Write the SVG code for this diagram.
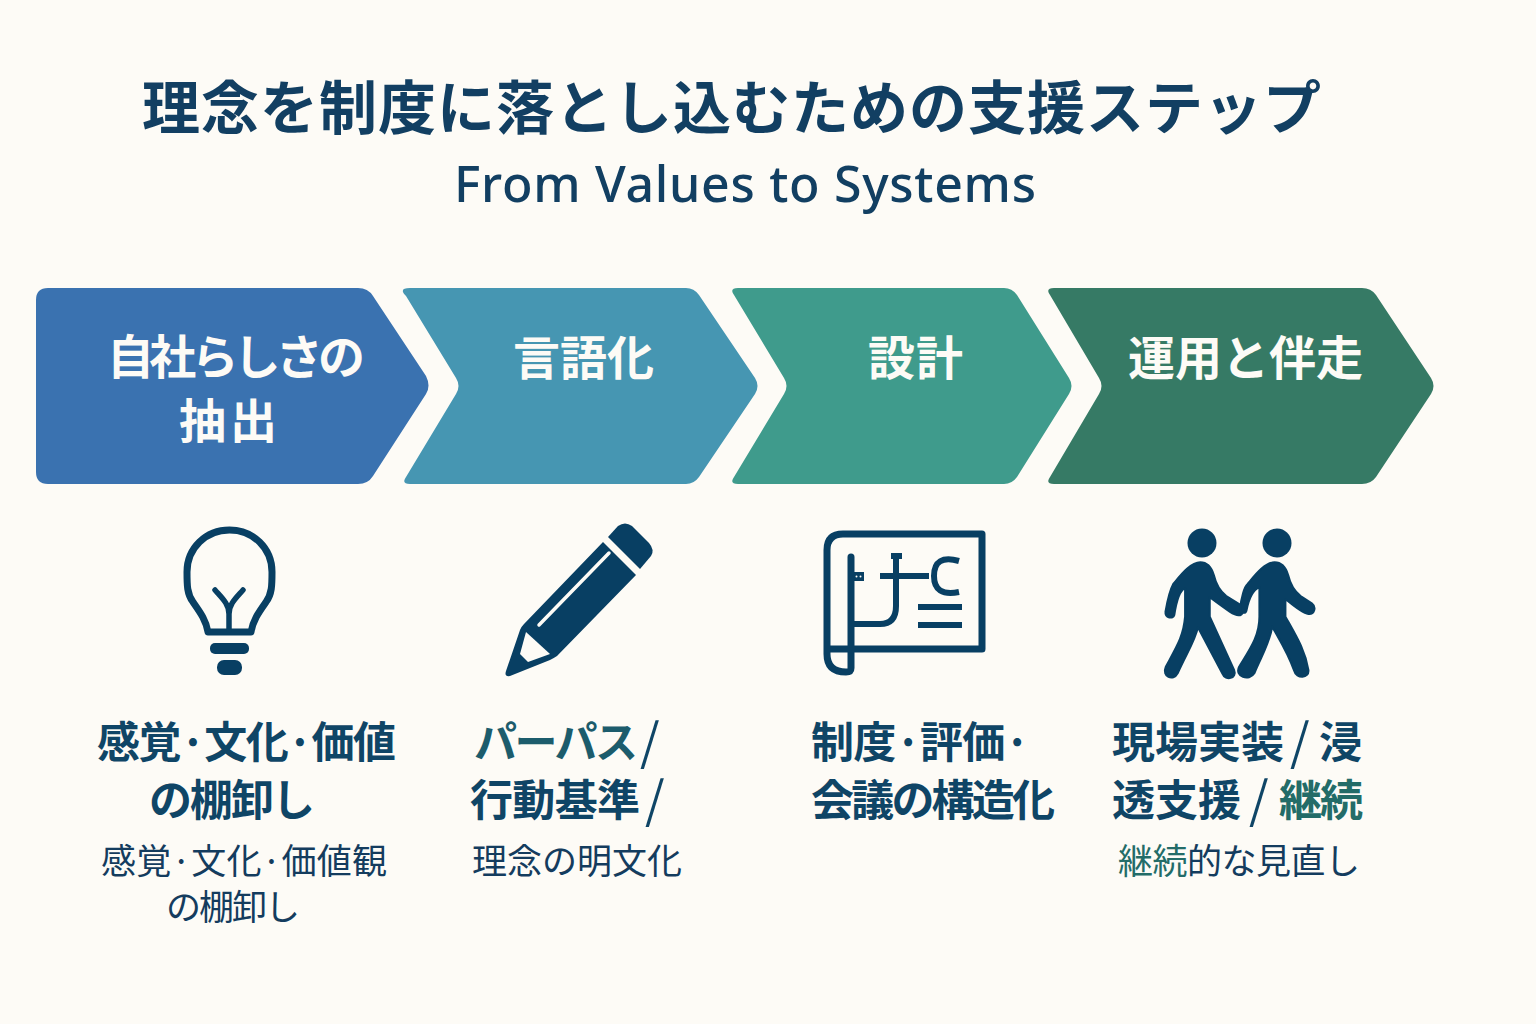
<svg xmlns="http://www.w3.org/2000/svg" width="1536" height="1024" viewBox="0 0 1536 1024">
<style>
text{font-family:"Noto Sans CJK JP","Noto Sans",sans-serif}
.title{font-size:58px;font-weight:700;fill:#123f62}
.sub{font-family:"Noto Sans","Noto Sans CJK JP",sans-serif;font-size:50px;font-weight:500;fill:#123f62}
.step{font-size:47px;font-weight:700;fill:#fdfbf6}
.b{font-size:43px;font-weight:700;fill:#0f4566}
.r{font-size:35px;font-weight:400;fill:#143c5e}
.teal{fill:#1c5c6c}
.green{fill:#236c68}
.sl{font-size:50px;font-weight:400;fill:#0f4566}
.ic{fill:#083f63;stroke:none}
.walk{fill:#083f63;stroke:#083f63;stroke-width:6;stroke-linejoin:round}
.ln{fill:none;stroke:#083f63;stroke-linecap:round;stroke-linejoin:round}
.w{fill:#fdfbf6;stroke:none}
</style>
<rect width="1536" height="1024" fill="#fdfbf6"/>
<g id="header">
<text class="title" x="142" y="129" textLength="1179" lengthAdjust="spacing">理念を制度に落とし込むための支援ステップ</text>
<text class="sub" x="454" y="202" textLength="582" lengthAdjust="spacing">From Values to Systems</text>
</g>
<g id="step1">
<path fill="#3a72b0" d="M48 288H358Q368 288 373 296L426 376Q431 386 426 394L373 476Q368 484 358 484H48Q36 484 36 472V300Q36 288 48 288Z"/>
<text class="step" x="107" y="374" textLength="258" lengthAdjust="spacing">自社らしさの</text>
<text class="step" x="179" y="438" textLength="98" lengthAdjust="spacing">抽出</text>
<g id="icon-bulb">
<path class="ln" stroke-width="7" d="M208 632C206 620 200 612 193 602C187 594 187 585 187 572C187 548 206 530 229.500 530C253 530 272 548 272 572C272 585 272 594 266 602C259 612 253 620 251 632Z"/>
<path class="ln" stroke-width="5.500" d="M229 630V614C229 604 222 598 215 590M229 614C229 604 236 598 243 590"/>
<rect class="ic" x="210" y="643" width="39" height="11" rx="5"/>
<rect class="ic" x="217" y="660" width="25" height="15" rx="7"/>
</g>
<text class="b" x="97" y="758" textLength="299" lengthAdjust="spacing">感覚·文化·価値</text>
<text class="b" x="149" y="816" textLength="166" lengthAdjust="spacing">の棚卸し</text>
<text class="r" x="101" y="874" textLength="286" lengthAdjust="spacing">感覚·文化·価値観</text>
<text class="r" x="166" y="920" textLength="134" lengthAdjust="spacing">の棚卸し</text>
</g>
<g id="step2">
<path fill="#4696b2" d="M410 288H686Q694 288 699 295L755 378Q760 386 755 394L699 477Q694 484 686 484H410Q401 484 406 477L456 394Q461 386 456 378L406 296Q398 288 410 288Z"/>
<text class="step" x="513" y="375" textLength="141" lengthAdjust="spacing">言語化</text>
<g id="icon-pencil">
<path class="ic" d="M608 537L618 526Q625 521 632 526L649 543Q655 550 651 556L640 569Z"/>
<path class="ic" d="M603 542L636 575L557 656Q554 658 550 660L510 676Q504 677 506 671L520 630Q521 627 524 624Z"/>
<path class="ln" style="stroke:#fdfbf6" stroke-width="3.500" d="M609 553L539 625"/>
<path class="w" d="M526 632L550 654L528 662L520 654Z"/>
</g>
<text class="b teal" x="474" y="758" textLength="164" lengthAdjust="spacing">パーパス</text>
<text class="sl" x="640" y="760">/</text>
<text class="b" x="470" y="816" textLength="170" lengthAdjust="spacing">行動基準</text>
<text class="sl" x="645" y="818">/</text>
<text class="r" x="472" y="874" textLength="210" lengthAdjust="spacing">理念の明文化</text>
</g>
<g id="step3">
<path fill="#3f9b8c" d="M738 288H1004Q1012 288 1017 295L1069 378Q1074 386 1069 394L1017 477Q1012 484 1004 484H738Q729 484 734 477L784 394Q789 386 784 378L734 295Q729 288 738 288Z"/>
<text class="step" x="868" y="375" textLength="95" lengthAdjust="spacing">設計</text>
<g id="icon-blueprint">
<path class="ln" stroke-width="7" d="M827 650V550Q827 534 843 534H982V649H827V654Q827 672 846 672Q851 672 851 668V557"/>
<rect class="ic" x="854" y="572" width="10" height="9"/>
<circle class="w" cx="856.500" cy="576.500" r="1"/>
<circle class="w" cx="860.500" cy="576.500" r="1"/>
<path class="ln" stroke-width="6" style="stroke-linecap:butt" d="M851 624H880Q896 624 896 606V555M891 556H902M880 576H929"/>
<path class="ln" stroke-width="6" style="stroke-linecap:butt" d="M959 561Q934 554 934 576Q934 597 959 592"/>
<rect class="ic" x="918" y="604" width="44" height="6"/>
<rect class="ic" x="918" y="622" width="44" height="6"/>
</g>
<text class="b" x="811" y="758" textLength="219" lengthAdjust="spacing">制度·評価·</text>
<text class="b" x="811" y="816" textLength="244" lengthAdjust="spacing">会議の構造化</text>
</g>
<g id="step4">
<path fill="#367a65" d="M1054 288H1362Q1371 288 1376 295L1431 378Q1436 386 1431 394L1376 477Q1371 484 1362 484H1054Q1045 484 1050 477L1099 394Q1104 386 1099 378L1050 295Q1045 288 1054 288Z"/>
<text class="step" x="1128" y="375" textLength="235" lengthAdjust="spacing">運用と伴走</text>
<g id="icon-walkers">
<circle class="ic" cx="1202" cy="543" r="14.500"/>
<circle class="ic" cx="1277" cy="543" r="14.500"/>
<g transform="translate(800 510) scale(.3378 .3333)">
<path class="walk" d="M1185 157C1205 157 1218 172 1225 195C1232 225 1245 245 1262 258L1305 285C1318 295 1312 316 1298 316C1285 316 1270 305 1213 262V320L1285 480C1295 505 1260 515 1250 490L1178 352C1170 390 1150 420 1118 490C1105 515 1070 500 1083 470C1115 410 1135 380 1140 320V235C1125 240 1115 270 1108 315C1105 328 1080 325 1082 305C1088 270 1095 240 1105 222C1125 198 1155 157 1185 157Z"/>
<path class="walk" d="M1405 157C1425 157 1438 172 1445 195C1452 225 1465 245 1482 258L1515 280C1530 292 1522 314 1505 312C1490 310 1470 295 1437 267V320C1470 380 1495 420 1505 480C1508 505 1470 510 1462 480C1445 430 1420 390 1398 350C1390 400 1370 430 1345 490C1330 515 1285 500 1300 470C1330 420 1360 380 1360 320V232C1340 240 1328 270 1322 300C1320 312 1304 312 1303 295C1306 265 1315 230 1325 222C1345 198 1375 157 1405 157Z"/>
</g>
</g>
<text class="b" x="1112" y="758" textLength="172" lengthAdjust="spacing">現場実装</text>
<text class="sl" x="1290" y="760">/</text>
<text class="b" x="1319" y="758">浸</text>
<text class="b" x="1112" y="816" textLength="129" lengthAdjust="spacing">透支援</text>
<text class="sl" x="1249" y="818">/</text>
<text class="b green" x="1279" y="816" textLength="84" lengthAdjust="spacing">継続</text>
<text class="r" x="1118" y="874" textLength="242" lengthAdjust="spacing"><tspan class="green">継続</tspan>的な見直し</text>
</g>
</svg>
